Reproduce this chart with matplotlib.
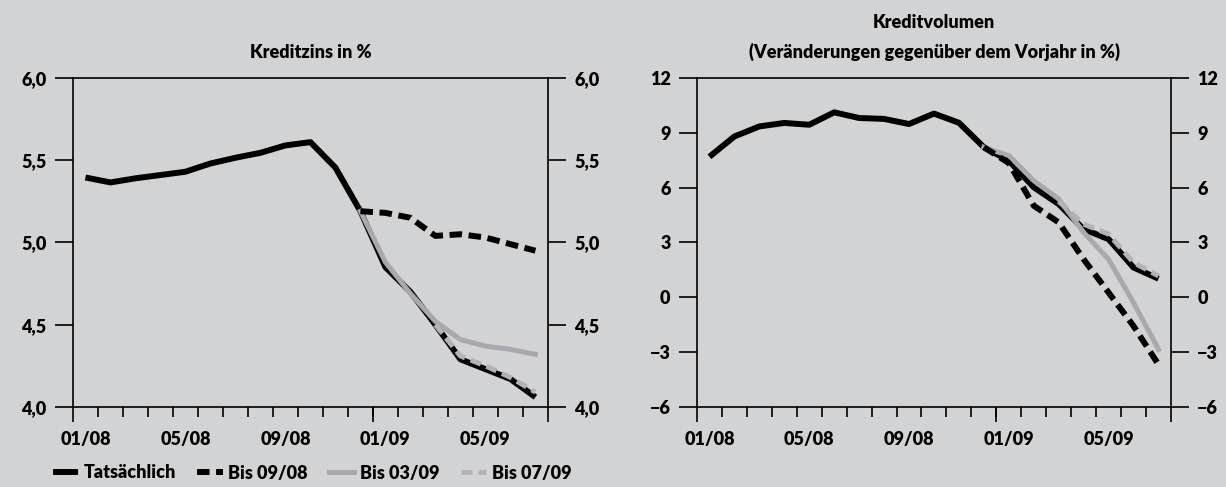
import matplotlib
matplotlib.use("Agg")
import matplotlib.pyplot as plt
from matplotlib.ticker import FuncFormatter, FixedLocator

plt.rcParams['font.family'] = ['Lato', 'DejaVu Sans']
plt.rcParams['font.weight'] = 'heavy'

months = ["01/08", "02/08", "03/08", "04/08", "05/08", "06/08", "07/08", "08/08", "09/08",
          "10/08", "11/08", "12/08", "01/09", "02/09", "03/09", "04/09", "05/09", "06/09", "07/09"]
label_months = ["01/08", "05/08", "09/08", "01/09", "05/09"]

# Kreditzins in %
zins_actual = [5.395, 5.365, 5.39, 5.41, 5.43, 5.48, 5.515, 5.545, 5.59, 5.61, 5.455, 5.19,
               4.85, 4.70, 4.50, 4.29, 4.23, 4.17, 4.06]
zins_bis0908 = [None]*11 + [5.19, 5.18, 5.15, 5.04, 5.05, 5.03, 4.99, 4.95]
zins_bis0309 = [None]*11 + [5.19, 4.88, 4.69, 4.52, 4.41, 4.37, 4.35, 4.32]
zins_bis0709 = [None]*14 + [4.50, 4.31, 4.25, 4.18, 4.09]

# Kreditvolumen, Veränderung gegenüber Vorjahr in %
vol_actual = [7.69, 8.80, 9.35, 9.54, 9.44, 10.12, 9.81, 9.76, 9.48, 10.05, 9.55, 8.21,
              7.48, 6.02, 5.10, 3.73, 3.18, 1.63, 1.02]
vol_bis0908 = [None]*11 + [8.21, 7.35, 5.01, 4.10, 2.08, 0.26, -1.57, -3.68]
vol_bis0309 = [None]*11 + [8.21, 7.75, 6.38, 5.38, 3.55, 2.08, -0.29, -2.85]
vol_bis0709 = [None]*14 + [5.25, 4.00, 3.46, 1.90, 1.17]

series_names = ["Tatsächlich", "Bis 09/08", "Bis 03/09", "Bis 07/09"]

BG = "#d2d3d5"
GRAY1 = "#a9a7af"
GRAY2 = "#b3b2b8"

fig = plt.figure(figsize=(12.26, 4.87), dpi=100, facecolor=BG)

def xy(vals):
    xs = [i for i, v in enumerate(vals) if v is not None]
    ys = [v for v in vals if v is not None]
    return xs, ys

def setup(ax, ylim, yticks, fmt):
    ax.set_facecolor(BG)
    ax.set_xlim(-0.5, len(months) - 0.5)
    ax.set_ylim(*ylim)
    for s in ax.spines.values():
        s.set_linewidth(1.2)
        s.set_color("black")
    ax.set_yticks(yticks)
    ax.yaxis.set_major_formatter(FuncFormatter(fmt))
    ax.tick_params(axis='y', which='major', left=True, right=True, labelleft=True,
                   labelright=True, length=13, width=1.2, direction='out', pad=6,
                   labelsize=13)
    pos = [months.index(m) for m in label_months]
    ax.set_xticks(pos)
    ax.set_xticklabels(label_months)
    ax.tick_params(axis='x', which='major', length=0, pad=17, labelsize=13)
    ax.xaxis.set_minor_locator(FixedLocator([i - 0.5 for i in range(1, len(months))]))
    ax.tick_params(axis='x', which='minor', length=7.5, width=1.2, direction='out')
    sec = ax.secondary_xaxis('bottom')
    sec.set_xticks([-0.5, 11.5, len(months) - 0.5])
    sec.tick_params(length=11, width=1.2, direction='out', labelbottom=False)
    sec.spines['bottom'].set_visible(False)

def draw(ax, a, b, c, d):
    x, y = xy(a)
    ax.plot(x, y, color="black", lw=4.3, solid_capstyle='butt', zorder=2, label=series_names[0])
    x, y = xy(c)
    ax.plot(x, y, color=GRAY1, lw=3.6, zorder=3, label=series_names[2])
    x, y = xy(d)
    ax.plot(x, y, color=GRAY2, lw=3.6, ls=(0, (2.2, 1.2)), zorder=4, label=series_names[3])
    x, y = xy(b)
    ax.plot(x, y, color="black", lw=4.3, ls=(0, (2.1, 1.1)), zorder=5, label=series_names[1])

ax1 = fig.add_axes([0.0595, 0.1643, 0.3874, 0.6756])
setup(ax1, (4.0, 6.0), [4.0, 4.5, 5.0, 5.5, 6.0], lambda v, p: f"{v:.1f}".replace(".", ","))
draw(ax1, zins_actual, zins_bis0908, zins_bis0309, zins_bis0709)

ax2 = fig.add_axes([0.5685, 0.1643, 0.3866, 0.6756])
setup(ax2, (-6, 12), [-6, -3, 0, 3, 6, 9, 12], lambda v, p: f"{int(v)}".replace("-", "\u2212"))
draw(ax2, vol_actual, vol_bis0908, vol_bis0309, vol_bis0709)

fig.text(0.2532, 1 - 52 / 487, "Kreditzins in %", ha='center', va='center', fontsize=13)
fig.text(0.762, 1 - 22 / 487, "Kreditvolumen", ha='center', va='center', fontsize=13)
fig.text(0.762, 1 - 52 / 487, "(Veränderungen gegenüber dem Vorjahr in %)", ha='center',
         va='center', fontsize=13)

h, l = ax1.get_legend_handles_labels()
order = [l.index(n) for n in series_names]
fig.legend([h[i] for i in order], [l[i] for i in order], loc='center left',
           bbox_to_anchor=(0.037, 1 - 473 / 487), ncol=4, frameon=False, fontsize=13,
           handlelength=1.4, handletextpad=0.3, columnspacing=1.2, borderaxespad=0)

fig.savefig("out.png", dpi=100, facecolor=BG)
